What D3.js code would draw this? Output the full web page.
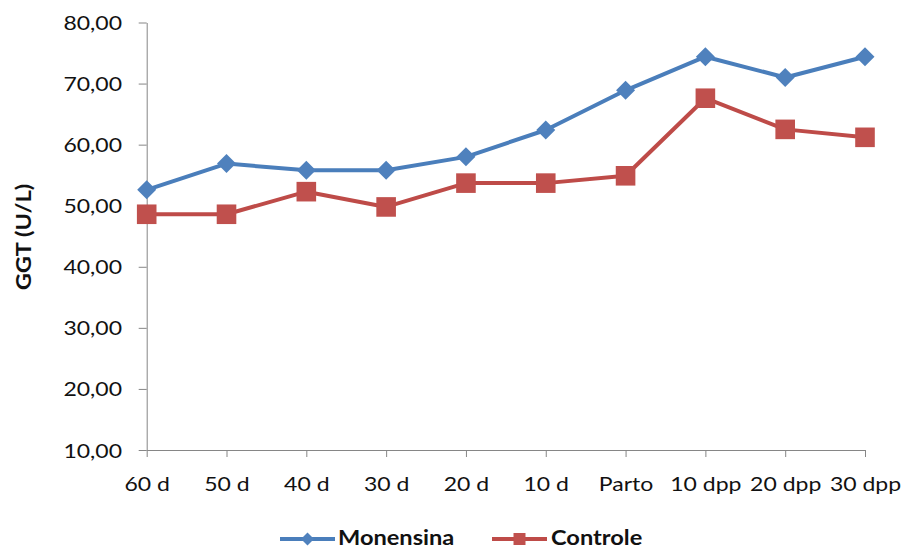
<!DOCTYPE html>
<html>
<head>
<meta charset="utf-8">
<script src="https://cdn.jsdelivr.net/npm/d3@7"></script>
<style>
  html, body { margin: 0; padding: 0; background: #fff; }
  svg { display: block; }
  text { font-family: Lato, "Open Sans", sans-serif; fill: #111; }
</style>
</head>
<body>
<svg id="chart" width="904" height="549"></svg>
<script>
// Sampling times
const categories = ["60 d", "50 d", "40 d", "30 d", "20 d", "10 d", "Parto", "10 dpp", "20 dpp", "30 dpp"];
// GGT (U/L) per group
const monensina = [52.6, 56.9, 55.8, 55.8, 58.0, 62.4, 68.9, 74.4, 71.0, 74.4];
const controle  = [48.6, 48.6, 52.3, 49.8, 53.7, 53.7, 54.9, 67.6, 62.5, 61.2];
const yTicks = [10, 20, 30, 40, 50, 60, 70, 80];
const seriesNames = ["Monensina", "Controle"];

const STRETCH = 1.18;
const svg = d3.select("#chart");
const plotLeft = 146.7, plotRight = 865, plotTop = 22.5, plotBottom = 450;

const x = d3.scalePoint().domain(categories).range([plotLeft, plotRight]).padding(0);
const y = d3.scaleLinear().domain([10, 80]).range([plotBottom, plotTop]);
const fmt = v => d3.format(".2f")(v).replace(".", ",");

// Marker shapes: size = half-width in px
const diamond = {
  draw(ctx, r) { ctx.moveTo(0, -r); ctx.lineTo(r, 0); ctx.lineTo(0, r); ctx.lineTo(-r, 0); ctx.closePath(); }
};
const square = {
  draw(ctx, r) { ctx.rect(-r, -r, 2 * r, 2 * r); }
};

// Y axis
const yAxis = svg.append("g")
  .attr("transform", `translate(${plotLeft},0)`)
  .call(d3.axisLeft(y).tickValues(yTicks).tickFormat(fmt).tickSize(8).tickSizeOuter(0));
yAxis.select(".domain").attr("stroke", "#868686");
yAxis.selectAll(".tick line").attr("stroke", "#868686");
yAxis.selectAll(".tick text")
  .attr("x", -24.7 / STRETCH)
  .attr("dy", "0.36em")
  .attr("transform", `scale(${STRETCH},1)`)
  .style("font-size", "19.5px")
  .style("font-family", "Lato, 'Open Sans', sans-serif")
  .attr("fill", "#111");

// X axis
const xAxis = svg.append("g")
  .attr("transform", `translate(0,${plotBottom})`)
  .call(d3.axisBottom(x).tickSize(7).tickSizeOuter(0));
xAxis.select(".domain").attr("stroke", "#868686");
xAxis.selectAll(".tick line").attr("stroke", "#868686");
xAxis.selectAll(".tick text")
  .attr("x", 0)
  .attr("y", 41.5)
  .attr("dy", 0)
  .attr("transform", `scale(${STRETCH},1)`)
  .style("font-size", "19.5px")
  .style("font-family", "Lato, 'Open Sans', sans-serif")
  .attr("fill", "#111");

// Y axis title
svg.append("text")
  .attr("transform", `translate(31,237) rotate(-90) scale(${STRETCH},1)`)
  .attr("text-anchor", "middle")
  .style("font-size", "20px")
  .style("font-weight", "bold")
  .text("GGT (U/L)");

const line = d3.line().x((d, i) => x(categories[i])).y(d => y(d));

const series = [
  { name: seriesNames[0], values: monensina, stroke: "#4a7ebb", fill: "#4f81bd", shape: diamond, r: 9.5, lr: 6.5 },
  { name: seriesNames[1], values: controle,  stroke: "#be4b48", fill: "#c0504d", shape: square,  r: 9.8, lr: 6 }
];

series.forEach(s => {
  svg.append("path")
    .datum(s.values)
    .attr("d", line)
    .attr("fill", "none")
    .attr("stroke", s.stroke)
    .attr("stroke-width", 4)
    .attr("stroke-linejoin", "round");
});

series.forEach(s => {
  svg.append("g").selectAll("path")
    .data(s.values)
    .join("path")
    .attr("transform", (d, i) => `translate(${x(categories[i])},${y(d)})`)
    .attr("d", d3.symbol().type(s.shape).size(s.r)())
    .attr("fill", s.fill);
});

// Legend
const legendY = 539;
const legendItems = [
  { x0: 280, x1: 335, label: 338, s: series[0] },
  { x0: 492, x1: 547, label: 551, s: series[1] }
];
legendItems.forEach(it => {
  const g = svg.append("g");
  g.append("line")
    .attr("x1", it.x0).attr("x2", it.x1)
    .attr("y1", legendY).attr("y2", legendY)
    .attr("stroke", it.s.stroke).attr("stroke-width", 4);
  g.append("path")
    .attr("transform", `translate(${(it.x0 + it.x1) / 2},${legendY})`)
    .attr("d", d3.symbol().type(it.s.shape).size(it.s.lr)())
    .attr("fill", it.s.fill);
  g.append("text")
    .attr("transform", `translate(${it.label},545) scale(${STRETCH},1)`)
    .style("font-size", "20px")
    .style("font-weight", "bold")
    .text(it.s.name);
});
</script>
</body>
</html>
